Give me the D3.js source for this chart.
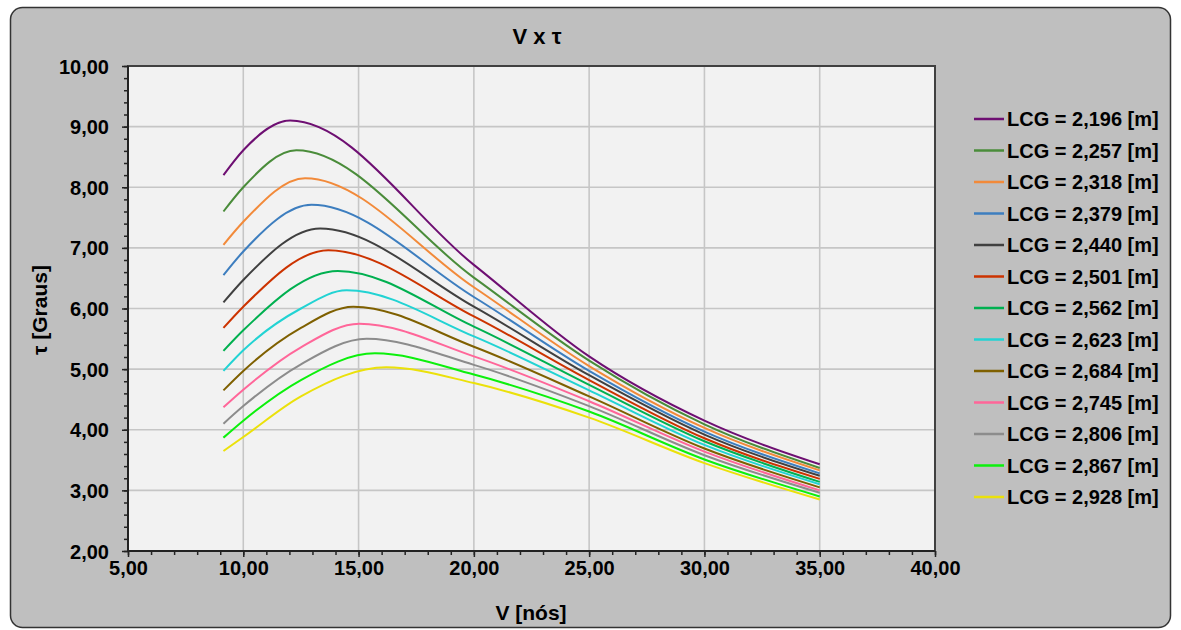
<!DOCTYPE html>
<html><head><meta charset="utf-8">
<script src="https://cdn.jsdelivr.net/npm/d3@7"></script>
<style>
body{margin:0;background:#fff}
svg{display:block}
text{font-family:"Liberation Sans",Arial,sans-serif;font-weight:bold;fill:#000}
</style></head>
<body><svg id="c" width="1181" height="630"></svg>
<script>
// ---- data ----
const chartTitle = "V x τ";
const xTitle = "V [nós]";
const yTitle = "τ [Graus]";
const lcgLabels = ["LCG = 2,196 [m]","LCG = 2,257 [m]","LCG = 2,318 [m]","LCG = 2,379 [m]","LCG = 2,440 [m]","LCG = 2,501 [m]","LCG = 2,562 [m]","LCG = 2,623 [m]","LCG = 2,684 [m]","LCG = 2,745 [m]","LCG = 2,806 [m]","LCG = 2,867 [m]","LCG = 2,928 [m]"];
const seriesColors = ["#6e0f72","#4a8c3a","#f28a3a","#3d7ebf","#404040","#cc3300","#00b050","#22d3d3","#7f6000","#ff6699","#8c8c8c","#0cf00c","#ebe10a"];
const xTicks = [5,10,15,20,25,30,35,40];
const yTicks = [2,3,4,5,6,7,8,9,10];
const speeds = [
  [9.14,10,12.03,20,25,30,35],
  [9.14,10,12.30,20,25,30,35],
  [9.14,10,12.68,20,25,30,35],
  [9.14,10,12.96,20,25,30,35],
  [9.14,10,13.33,20,25,30,35],
  [9.14,10,13.69,20,25,30,35],
  [9.14,10,14.10,20,25,30,35],
  [9.14,10,12.5,14.48,20,25,30,35],
  [9.14,10,12.5,14.77,20,25,30,35],
  [9.14,10,12.5,15.03,20,25,30,35],
  [9.14,10,12.5,15.35,20,25,30,35],
  [9.14,10,12.5,15.71,20,25,30,35],
  [9.14,10,12.5,16.20,20,25,30,35]
];
const taus = [
  [8.20,8.61,9.10,6.72,5.21,4.15,3.43],
  [7.60,8.00,8.61,6.51,5.14,4.09,3.37],
  [7.05,7.43,8.15,6.35,5.05,4.03,3.33],
  [6.55,6.94,7.71,6.19,4.97,3.97,3.28],
  [6.10,6.47,7.32,6.03,4.90,3.92,3.24],
  [5.68,6.03,6.96,5.87,4.82,3.86,3.19],
  [5.30,5.64,6.62,5.70,4.74,3.81,3.14],
  [4.97,5.31,6.00,6.30,5.54,4.65,3.75,3.10],
  [4.65,4.97,5.68,6.03,5.37,4.55,3.69,3.05],
  [4.37,4.66,5.36,5.75,5.21,4.47,3.64,3.00],
  [4.10,4.39,5.08,5.50,5.07,4.39,3.58,2.96],
  [3.87,4.15,4.82,5.26,4.91,4.30,3.51,2.90],
  [3.65,3.88,4.55,5.03,4.77,4.20,3.45,2.85]
];

// ---- chart ----
const svg = d3.select("#c");
const L=128, R=935, T=66, B=551;
const x = d3.scaleLinear().domain([5,40]).range([L,R]);
const y = d3.scaleLinear().domain([2,10]).range([B,T]);
const loc = d3.formatLocale({decimal:",",thousands:".",grouping:[3],currency:["",""]});
const fmt = loc.format(".2f");

svg.append("rect").attr("x",10.5).attr("y",7.5).attr("width",1160).attr("height",620)
  .attr("rx",12).attr("fill","#bfbfbf").attr("stroke","#333").attr("stroke-width",1.5);

svg.append("rect").attr("x",L).attr("y",T).attr("width",R-L).attr("height",B-T).attr("fill","#f2f2f2");

// grid
const g = svg.append("g");
g.selectAll("line.v").data(xTicks.filter(d=>d>5&&d<40)).join("line")
  .attr("x1",d=>x(d)).attr("x2",d=>x(d)).attr("y1",T).attr("y2",B)
  .attr("stroke","#c6c6c6").attr("stroke-width",1.6);
g.selectAll("line.h").data(yTicks.filter(d=>d>2&&d<10)).join("line")
  .attr("y1",d=>y(d)).attr("y2",d=>y(d)).attr("x1",L).attr("x2",R)
  .attr("stroke","#c6c6c6").attr("stroke-width",1.6);

// curves
const line = d3.line().x(d=>x(d[0])).y(d=>y(d[1])).curve(d3.curveMonotoneX);
speeds.forEach((vs,i)=>{
  const pts = vs.map((v,j)=>[v,taus[i][j]]);
  svg.append("path").attr("d",line(pts)).attr("fill","none")
    .attr("stroke",seriesColors[i]).attr("stroke-width",2);
});

// border
svg.append("rect").attr("x",L).attr("y",T).attr("width",R-L).attr("height",B-T)
  .attr("fill","none").attr("stroke","#404040").attr("stroke-width",2);

// axes
const minorY = d3.range(2,10.001,0.2);
const minorX = d3.range(5,40.001,1);
const ax = svg.append("g").attr("transform",`translate(${L},0)`);
ax.call(d3.axisLeft(y).tickValues(minorY).tickSize(4).tickFormat(""));
ax.append("g").call(d3.axisLeft(y).tickValues(yTicks).tickSize(6).tickFormat(fmt));
const bx = svg.append("g").attr("transform",`translate(0,${B})`);
bx.call(d3.axisBottom(x).tickValues(minorX).tickSize(4).tickFormat(""));
bx.append("g").call(d3.axisBottom(x).tickValues(xTicks).tickSize(6).tickFormat(fmt));
svg.selectAll(".domain").remove();
svg.selectAll(".tick line").attr("stroke","#222").attr("stroke-width",1.5);
ax.selectAll(".tick text").attr("font-size",20).attr("x",-19).attr("dy","0.35em")
  .style("font-family",'"Liberation Sans",Arial,sans-serif').style("font-weight","bold").attr("fill","#111");
bx.selectAll(".tick text").attr("font-size",20).attr("y",9).attr("dy","0.75em")
  .style("font-family",'"Liberation Sans",Arial,sans-serif').style("font-weight","bold").attr("fill","#111");
svg.append("line").attr("x1",L).attr("x2",L).attr("y1",T).attr("y2",B).attr("stroke","#222").attr("stroke-width",2);
svg.append("line").attr("x1",L).attr("x2",R).attr("y1",B).attr("y2",B).attr("stroke","#222").attr("stroke-width",2);

// titles
svg.append("text").attr("x",537).attr("y",44).attr("text-anchor","middle").attr("font-size",22).text(chartTitle);
svg.append("text").attr("x",531).attr("y",620).attr("text-anchor","middle").attr("font-size",21).text(xTitle);
svg.append("text").attr("transform","translate(47,310) rotate(-90)").attr("text-anchor","middle").attr("font-size",21).text(yTitle);

// legend
const leg = svg.append("g");
lcgLabels.forEach((lab,i)=>{
  const cy = 119 + i*31.5;
  leg.append("line").attr("x1",974).attr("x2",1004).attr("y1",cy).attr("y2",cy)
    .attr("stroke",seriesColors[i]).attr("stroke-width",2.5);
  leg.append("text").attr("x",1007).attr("y",cy).attr("dy","0.36em").attr("font-size",20).text(lab);
});
</script></body></html>
